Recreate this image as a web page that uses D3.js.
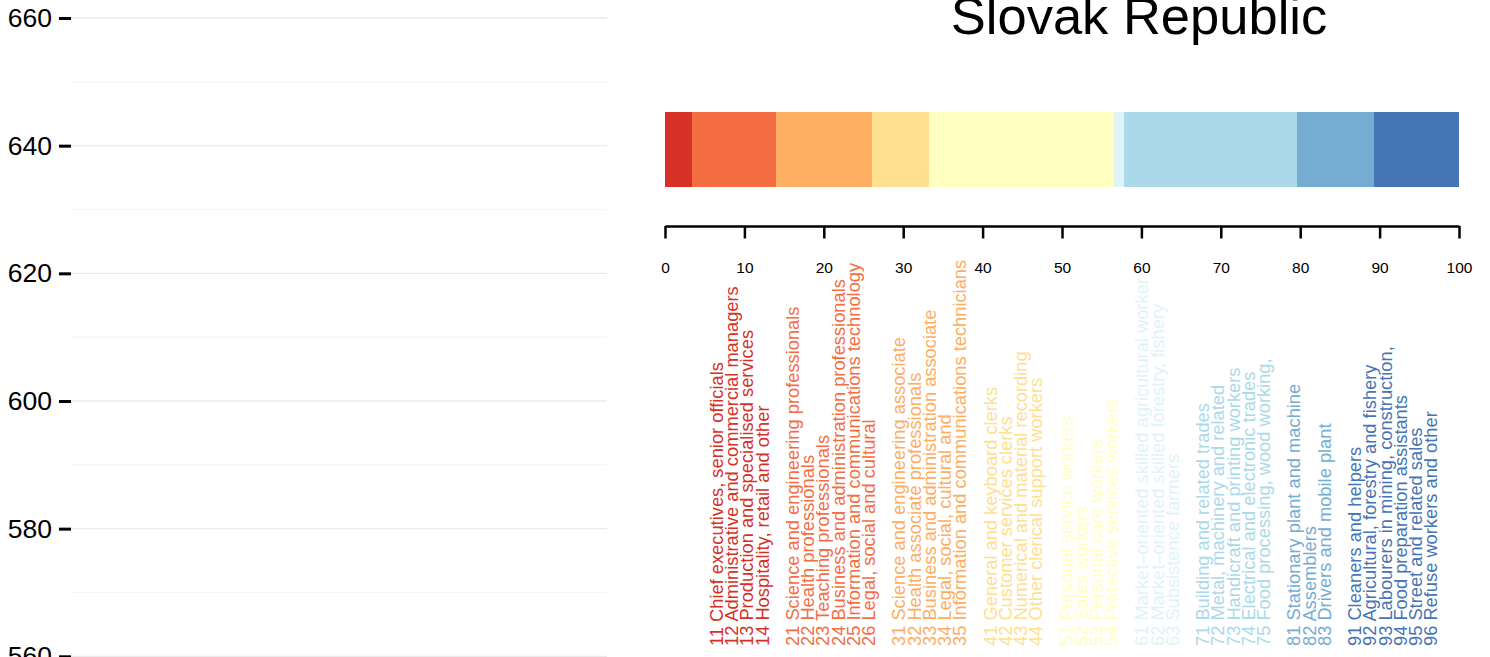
<!DOCTYPE html>
<html>
<head>
<meta charset="utf-8">
<script src="https://cdn.jsdelivr.net/npm/d3@7"></script>
<style>
  html, body { margin: 0; padding: 0; background: #fff; }
  svg { display: block; font-family: "Liberation Sans", Arial, Helvetica, sans-serif; }
</style>
</head>
<body>
<svg id="chart" width="1490" height="657"></svg>
<script>
// ---- data ----
const title = "Slovak Republic";
const leftTicks = [560, 580, 600, 620, 640, 660];
const leftMinor = [570, 590, 610, 630, 650];
const majorGroups = [1, 2, 3, 4, 5, 6, 7, 8, 9];
const groupShares = [3.4, 10.6, 12.1, 7.1, 23.3, 1.3, 21.8, 9.7, 10.7];
const groupColors = ["#d73027", "#f46d43", "#fdae61", "#fee090", "#ffffbf", "#e0f3f8", "#abd9e9", "#74add1", "#4575b4"];
const barTicks = [0, 10, 20, 30, 40, 50, 60, 70, 80, 90, 100];
const subGroupCodes = [11, 12, 13, 14, 21, 22, 23, 24, 25, 26, 31, 32, 33, 34, 35, 41, 42, 43, 44, 51, 52, 53, 54, 61, 62, 63, 71, 72, 73, 74, 75, 81, 82, 83, 91, 92, 93, 94, 95, 96];
const subGroupNames = [
  "Chief executives, senior officials",
  "Administrative and commercial managers",
  "Production and specialised services",
  "Hospitality, retail and other",
  "Science and engineering professionals",
  "Health professionals",
  "Teaching professionals",
  "Business and administration professionals",
  "Information and communications technology",
  "Legal, social and cultural",
  "Science and engineering associate",
  "Health associate professionals",
  "Business and administration associate",
  "Legal, social, cultural and",
  "Information and communications technicians",
  "General and keyboard clerks",
  "Customer services clerks",
  "Numerical and material recording",
  "Other clerical support workers",
  "Personal service workers",
  "Sales workers",
  "Personal care workers",
  "Protective services workers",
  "Market\u2013oriented skilled agricultural worker",
  "Market\u2013oriented skilled forestry, fishery",
  "Subsistence farmers",
  "Building and related trades",
  "Metal, machinery and related",
  "Handicraft and printing workers",
  "Electrical and electronic trades",
  "Food processing, wood working,",
  "Stationary plant and machine",
  "Assemblers",
  "Drivers and mobile plant",
  "Cleaners and helpers",
  "Agricultural, forestry and fishery",
  "Labourers in mining, construction,",
  "Food preparation assistants",
  "Street and related sales",
  "Refuse workers and other"
];

// ---- drawing ----
const svg = d3.select("#chart");

// Left panel
const yLeft = d3.scaleLinear().domain([560, 660]).range([656.3, 18]);
const gridX0 = 71, gridX1 = 607;
const left = svg.append("g");
left.selectAll("line.minor").data(leftMinor).join("line")
  .attr("x1", gridX0).attr("x2", gridX1)
  .attr("y1", d => yLeft(d)).attr("y2", d => yLeft(d))
  .attr("stroke", "#f6f6f6").attr("stroke-width", 1.3);
left.selectAll("line.major").data(leftTicks).join("line")
  .attr("x1", gridX0).attr("x2", gridX1)
  .attr("y1", d => yLeft(d)).attr("y2", d => yLeft(d))
  .attr("stroke", "#ebebeb").attr("stroke-width", 1.3);
const leftAxis = left.append("g").attr("transform", `translate(${gridX0},0)`)
  .call(d3.axisLeft(yLeft).tickValues(leftTicks).tickSize(12).tickPadding(7));
leftAxis.select(".domain").remove();
leftAxis.selectAll(".tick line").attr("stroke", "#000").attr("stroke-width", 3);
leftAxis.selectAll(".tick text").attr("fill", "#000").attr("font-size", 26.5)
  .attr("font-family", "Liberation Sans, Arial, sans-serif");

// Right panel: title
svg.append("text").attr("x", 1139).attr("y", 33.5)
  .attr("text-anchor", "middle").attr("font-size", 52.5).attr("fill", "#000")
  .text(title);

// Stacked bar
const x = d3.scaleLinear().domain([0, 100]).range([665, 1459]);
const color = d3.scaleOrdinal().domain(majorGroups).range(groupColors);
let acc = 0;
const segs = groupShares.map((v, i) => { const s = { g: majorGroups[i], x0: acc, x1: acc + v }; acc += v; return s; });
svg.append("g").selectAll("rect").data(segs).join("rect")
  .attr("x", d => x(d.x0)).attr("width", d => x(d.x1) - x(d.x0))
  .attr("y", 112).attr("height", 75)
  .attr("fill", d => color(d.g))
  .attr("shape-rendering", "crispEdges");

// Bottom axis for bar
const ax = svg.append("g").attr("transform", "translate(0,226)")
  .call(d3.axisBottom(x).tickValues(barTicks).tickSize(12.5).tickSizeOuter(0).tickPadding(23.5));
ax.select(".domain").attr("stroke", "#000").attr("stroke-width", 2.5);
ax.selectAll(".tick line").attr("stroke", "#000").attr("stroke-width", 2.5);
ax.selectAll(".tick text").attr("fill", "#000").attr("font-size", 15.5)
  .attr("font-family", "Liberation Sans, Arial, sans-serif");

// Rotated sub-group labels, one slot per line plus a blank slot between major groups
const slots = [];
let slot = 0, prevMajor = null;
subGroupCodes.forEach((c, i) => {
  const mg = Math.floor(c / 10);
  if (prevMajor !== null && mg !== prevMajor) slot += 1;
  slots.push({ code: c, name: subGroupNames[i], major: mg, slot: slot });
  slot += 1; prevMajor = mg;
});
const slotX = d3.scaleLinear().domain([0, d3.max(slots, d => d.slot)]).range([716.7, 1430.7]);
svg.append("g").selectAll("text").data(slots).join("text")
  .attr("transform", d => `translate(${slotX(d.slot)},646) rotate(-90)`)
  .attr("dy", "0.35em")
  .attr("text-anchor", "start")
  .attr("font-size", 18.3)
  .attr("fill", d => color(d.major))
  .text(d => d.code + " " + d.name);
</script>
</body>
</html>
